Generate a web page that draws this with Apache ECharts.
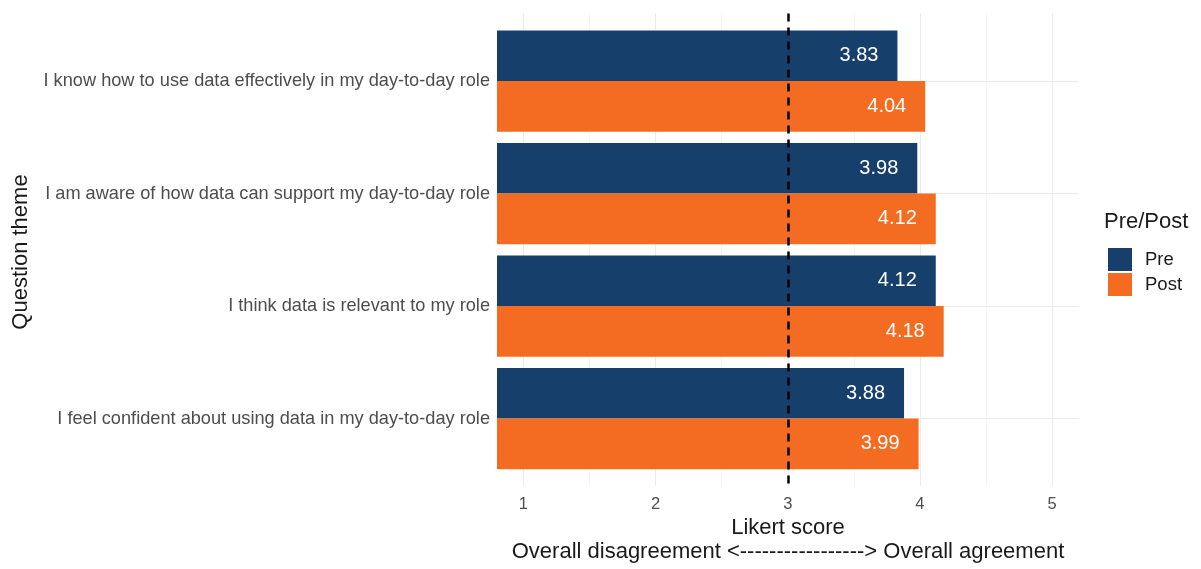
<!DOCTYPE html>
<html>
<head>
<meta charset="utf-8">
<style>
  html, body { margin: 0; padding: 0; background: #ffffff; }
  #chart { width: 1201px; height: 569px; }
</style>
<script src="https://cdn.jsdelivr.net/npm/echarts@6/dist/echarts.min.js"></script>
</head>
<body>
<div id="chart"></div>
<script>
// Survey question themes, top to bottom
const categories = [
  'I know how to use data effectively in my day-to-day role',
  'I am aware of how data can support my day-to-day role',
  'I think data is relevant to my role',
  'I feel confident about using data in my day-to-day role'
];
// Mean Likert scores before and after
const preScores = [3.83, 3.98, 4.12, 3.88];
const postScores = [4.04, 4.12, 4.18, 3.99];
// Tick values on the score axis
const scoreTicks = [1, 2, 3, 4, 5];
const minorTicks = [1.5, 2.5, 3.5, 4.5];
const neutralScore = 3;

const FONT = "'Liberation Sans', Arial, sans-serif";
const PRE_COLOR = '#173f6c';
const POST_COLOR = '#f36c21';

// Panel geometry: outer panel includes the discrete-axis padding,
// inner grid holds the four category bands.
const panelLeft = 497, panelRight = 1078.5, panelTop = 13.5, panelBottom = 486;
const band = (panelBottom - panelTop) / (categories.length + 0.2);
const innerTop = panelTop + 0.1 * band;
const innerBottom = panelBottom - 0.1 * band;

const chart = echarts.init(document.getElementById('chart'), null, { renderer: 'canvas' });

const gridLine = (v, axis, width, color) => ({
  [axis]: v, lineStyle: { color: color, width: width, type: 'solid' }
});

const barLabel = {
  show: true, position: 'insideRight', distance: 19, color: '#ffffff',
  fontSize: 20, fontFamily: FONT, formatter: p => p.value.toFixed(2)
};

const option = {
  animation: false,
  backgroundColor: '#ffffff',
  textStyle: { fontFamily: FONT },
  grid: [
    { left: panelLeft, top: panelTop, width: panelRight - panelLeft, height: panelBottom - panelTop, containLabel: false },
    { left: panelLeft, top: innerTop, width: panelRight - panelLeft, height: innerBottom - innerTop, containLabel: false }
  ],
  xAxis: [
    {
      gridIndex: 0, type: 'value', min: 0.8, max: 5.2,
      axisLine: { show: false }, axisTick: { show: false }, splitLine: { show: false },
      axisLabel: {
        color: '#4d4d4d', fontSize: 16.5, margin: 10, fontFamily: FONT,
        formatter: v => (scoreTicks.indexOf(v) >= 0 ? String(v) : '')
      }
    },
    {
      gridIndex: 1, type: 'value', min: 0.8, max: 5.2, show: false
    }
  ],
  yAxis: [
    { gridIndex: 0, type: 'value', min: 0.4, max: 4.6, inverse: true, show: false },
    {
      gridIndex: 1, type: 'category', data: categories, inverse: true,
      axisLine: { show: false }, axisTick: { show: false }, splitLine: { show: false },
      axisLabel: { color: '#4d4d4d', fontSize: 18.2, margin: 7, fontFamily: FONT }
    }
  ],
  legend: {
    orient: 'vertical', left: 1103, top: 243, itemWidth: 24, itemHeight: 23, itemGap: 2,
    icon: 'rect', selectedMode: false,
    textStyle: { color: '#1a1a1a', fontSize: 18.5, fontFamily: FONT, padding: [0, 0, 0, 8] },
    data: ['Pre', 'Post']
  },
  graphic: [
    { type: 'text', x: 1104, y: 222,
      style: { text: 'Pre/Post', font: '22px ' + FONT, fill: '#1a1a1a', textAlign: 'left', textVerticalAlign: 'middle' } },
    { type: 'text', x: 21, y: 252, rotation: Math.PI / 2,
      style: { text: 'Question theme', font: '22px ' + FONT, fill: '#1a1a1a', textAlign: 'center', textVerticalAlign: 'middle' } },
    { type: 'text', x: 788, y: 528,
      style: { text: 'Likert score', font: '22px ' + FONT, fill: '#1a1a1a', textAlign: 'center', textVerticalAlign: 'middle' } },
    { type: 'text', x: 788, y: 552,
      style: { text: 'Overall disagreement <-----------------> Overall agreement', font: '22px ' + FONT, fill: '#1a1a1a', textAlign: 'center', textVerticalAlign: 'middle' } }
  ],
  series: [
    {
      // panel gridlines, kept beneath the bars
      type: 'line', xAxisIndex: 0, yAxisIndex: 0, data: [], z: 0, silent: true,
      markLine: {
        silent: true, symbol: 'none', label: { show: false }, animation: false, z: 0,
        data: [].concat(
          minorTicks.map(v => gridLine(v, 'xAxis', 0.8, '#f2f2f2')),
          scoreTicks.map(v => gridLine(v, 'xAxis', 1.1, '#ebebeb')),
          categories.map((c, i) => gridLine(i + 1, 'yAxis', 1.1, '#ebebeb'))
        )
      }
    },
    {
      name: 'Pre', type: 'bar', xAxisIndex: 1, yAxisIndex: 1, data: preScores, z: 2,
      barGap: '0%', barCategoryGap: '10%',
      itemStyle: { color: PRE_COLOR },
      label: barLabel
    },
    {
      name: 'Post', type: 'bar', xAxisIndex: 1, yAxisIndex: 1, data: postScores, z: 2,
      barGap: '0%', barCategoryGap: '10%',
      itemStyle: { color: POST_COLOR },
      label: barLabel
    },
    {
      // neutral reference line, drawn over the bars
      type: 'line', xAxisIndex: 0, yAxisIndex: 0, data: [], z: 10, silent: true,
      markLine: {
        silent: true, symbol: 'none', label: { show: false }, animation: false, z: 10,
        data: [{ xAxis: neutralScore, lineStyle: { color: '#000000', width: 2.5, type: [8, 6] } }]
      }
    }
  ]
};

chart.setOption(option);
</script>
</body>
</html>
